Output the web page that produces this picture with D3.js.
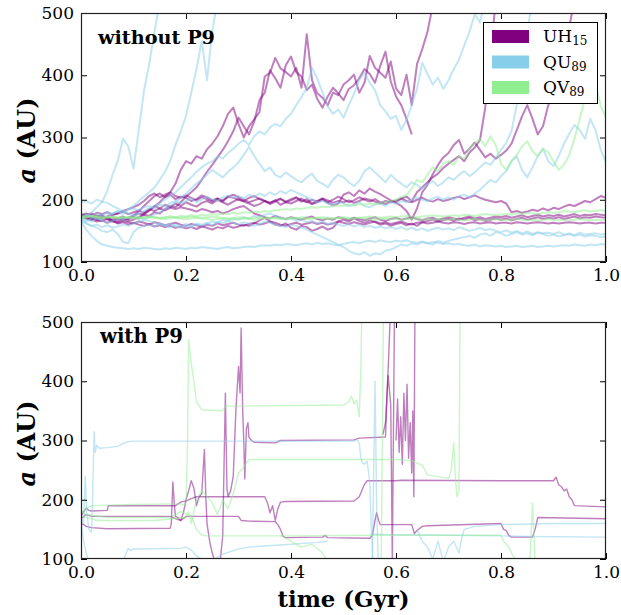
<!DOCTYPE html>
<html><head><meta charset="utf-8">
<script src="https://cdn.jsdelivr.net/npm/d3@7/dist/d3.min.js"></script>
<style>body{margin:0;background:#fff}svg{display:block}</style></head>
<body><svg id="c" width="621" height="615"></svg>
<script>
// ---------- DATA ----------
const timeGrid=[0,0.01,0.02,0.03,0.04,0.05,0.06,0.07,0.08,0.09,0.10,0.11,0.12,0.13,0.14,0.15,0.16,0.17,0.18,0.19,0.20,0.21,0.22,0.23,0.24,0.25,0.26,0.27,0.28,0.29,0.30,0.31,0.32,0.33,0.34,0.35,0.36,0.37,0.38,0.39,0.40,0.41,0.42,0.43,0.44,0.45,0.46,0.47,0.48,0.49,0.50,0.51,0.52,0.53,0.54,0.55,0.56,0.57,0.58,0.59,0.60,0.61,0.62,0.63,0.64,0.65,0.66,0.67,0.68,0.69,0.70,0.71,0.72,0.73,0.74,0.75,0.76,0.77,0.78,0.79,0.80,0.81,0.82,0.83,0.84,0.85,0.86,0.87,0.88,0.89,0.90,0.91,0.92,0.93,0.94,0.95,0.96,0.97,0.98,0.99,1.00];

// top panel (without P9): a (AU) sampled on timeGrid
const topUH1=[176,174,171,173,169,172,167,170,168,171, 174,178,176,183,189,196,205,212,226,248, 262,258,270,266,281,290,302,318,338,348, 322,300,318,329,341,398,404,428,411,405, 398,412,380,466,392,371,364,352,372,368, 385,392,401,372,388,431,412,404,396,422, 379,368,401,352,418,442,470,512];
const topUH2=[175,172,170,168,172,169,166,170,173,169, 172,170,176,174,180,178,185,190,188,196, 205,212,220,232,245,256,268,280,294,310, 332,318,305,326,360,372,408,395,380,416, 430,405,398,376,385,362,348,366,380,371, 360,378,384,395,410,402,388,415,438,390, 366,352,330,305];
const topUH3=[174,176,178,173,175,170,172,168,171,169, 175,182,190,198,206,210,204,208,201,205, 203,198,201,207,204,199,202,197,205,208, 204,200,196,199,202,198,193,197,201,196, 199,203,197,201,194,198,202,196,200,205, 201,196,199,204,200,197,201,196,193,198, 195,190,182,168,186,212,224,241,256,268, 275,288,296,274,282,292,280,268,274,266, 272,279,290,312,334,352,330,305,318,352, 368,396,432,478,520];
const topUH4=[172,170,168,171,174,170,167,165,169,166, 168,172,178,183,190,186,192,188,194,190, 196,192,189,195,198,194,200,196,192,197, 201,197,194,190,193,198,195,199,192,196, 194,198,202,197,193,196,200,195,191,194, 208,212,206,215,210,218,213,209,204,199, 196,202,205,198,212,220,228,236,242,251, 258,264,270,262,276,284,296,348,432,520];
const topUH5=[175,172,170,168,166,169,165,163,166,164, 162,165,163,160,164,162,159,161,163,160, 158,161,159,157,160,158,162,159,161,163, 160,158,161,163,160,162,165,163,160,158, 161,163,160,162,164,161,163,160,162,165, 163,161,164,162,160,163,165,162,164,161, 163,165,162,160,163,164,162,163,165,163, 162,164,163,161,163,164,162,163,164,162, 163,163,162,164,163,162,163,164,163,162, 163,162,163,164,163,162,163,163,162,163,163];
const topUH6=[176,178,175,179,177,180,176,178,181,177, 180,183,179,185,182,186,183,187,185,188, 186,184,181,185,183,180,182,178,181,185, 188,190,184,178,175,172,170,174,171,169, 172,170,168,171,173,169,167,170,168,172, 170,168,171,169,167,170,172,168,166,169, 171,168,170,172,169,167,170,171,168,170, 172,170,168,171,173,170,172,169,171,173, 172,174,171,173,175,172,174,176,173,175, 174,176,173,175,177,174,176,175,177,176,175];
const topUH7=[175,170,168,165,167,163,166,162,164,160, 163,160,158,161,157,159,156,158,155,157, 154,156,153,157,155,152,156,154,158,155, 157,160,158,162,167,171,165,160,158,162, 155,152,158,156,150,153,157,152,155,165, 168,165,170,166,163,167,164,160,162,158, 161,163,159,162,158,164,166,168,165,167, 169,166,170,168,171,167,169,166,168,170, 168,170,167,169,171,168,170,172,169,171, 170,172,169,171,173,170,172,171,173,172,171];
const topUH8=[176,174,172,175,171,173,176,178,182,185, 188,192,198,206,210,204,208,212,206,203, 207,203,199,204,201,197,202,199,205,203, 200,198,203,206,201,198,195,199,202,197, 201,204,199,196,200,197,202,199,195,198, 196,199,195,198,202,200,197,194,198,196, 199,202,198,196,200,203,199,197,201,198, 200,203,205,201,204,207,203,200,198,196, 198,194,180,182,179,181,184,182,186,183, 187,185,189,192,190,194,198,196,201,206,203];

const topQU1=[170,174,180,188,196,214,240,262,298,286, 250,312,375,418,470,520];
const topQU2=[168,165,170,172,168,175,178,182,176,185, 190,198,205,212,220,232,245,262,288,310, 335,372,410,455,392,470,520];
const topQU3=[172,168,165,170,167,163,166,170,168,172, 175,178,182,186,190,194,200,206,212,220, 228,236,245,252,258,262,270,266,275,282, 290,296,288,302,310,305,316,322,318,330, 338,352,365,380,412,395,372,350,338,345, 332,352,370,392,404,388,376,352,342,330, 335,312,328,352,378,420,402,385,396,378, 392,410,425,448,470,498,485,520];
const topQU4=[165,162,158,160,156,159,155,157,160,158, 162,165,168,172,176,180,185,190,196,203, 210,218,226,232,240,248,242,236,245,252, 260,272,285,270,258,246,252,240,236,244, 238,232,228,236,242,230,226,220,232,240, 236,228,222,230,246,252,244,236,228,240, 232,226,220,228,224,218,225,230,222,228, 236,232,240,246,238,244,252,260,256,268, 280,292,310,352,410,470,520];
const topQU5=[172,176,174,178,175,180,177,182,180,184, 186,183,188,190,186,192,189,195,198,194, 198,202,196,200,205,201,198,204,207,203, 206,202,208,205,210,206,212,208,214,210, 216,212,208,204,200,196,198,194,192,196, 194,190,192,196,190,188,192,194,190,196, 194,198,196,200,204,200,198,202,205,200, 204,200,206,208,204,210,216,224,232,228, 238,246,262,270,248,236,252,270,282,262, 254,270,290,306,320,312,298,330,312,280,260];
const topQU6=[165,152,142,134,128,126,124,123,122,121, 122,121,123,122,121,120,122,121,123,122, 121,123,122,124,123,122,121,123,124,122, 123,124,125,124,126,127,126,128,127,129, 128,127,129,130,128,131,129,130,128,127, 129,131,132,130,133,134,132,135,133,132, 134,133,135,132,131,133,130,132,131,129, 130,128,129,127,126,128,125,127,126,125, 126,124,125,126,124,125,126,124,125,126, 125,126,127,126,128,127,126,128,127,129,128];
const topQU7=[170,162,158,155,150,148,152,145,132,130, 148,155,158,160,157,162,159,156,160,158, 161,158,162,160,163,159,165,162,166,163, 160,164,162,158,161,165,163,160,158,156, 160,158,155,152,148,144,140,136,132,128, 124,118,114,112,116,110,114,112,118,120, 124,128,126,130,128,132,130,128,134,131, 134,136,138,140,142,139,144,146,142,148, 146,142,145,148,144,146,143,147,145,142, 144,141,143,145,142,144,141,143,142,140,141];
const topQU8=[196,198,194,200,197,195,190,186,182,178, 175,172,168,166,163,160,158,161,157,155, 158,156,160,158,162,165,163,168,166,170, 168,172,170,174,172,176,178,174,172,168, 170,166,168,164,166,162,165,161,163,160, 158,161,157,160,156,158,155,157,154,156, 153,156,152,155,151,154,150,153,155,152, 154,151,156,153,150,152,155,151,153,150, 148,151,147,150,146,149,145,148,146,147, 145,148,144,146,143,147,144,145,146,144,145];

const topQV1=[175,174,173,174,172,173,172,171,172,171, 172,171,172,173,172,171,172,173,172,171, 172,173,172,171,172,173,172,171,170,171, 172,171,170,171,172,171,170,171,170,169, 170,171,170,169,170,171,170,169,170,171, 170,169,170,171,170,169,168,169,170,169, 169,168,169,170,169,168,169,168,169,168, 168,169,168,167,168,169,168,167,168,169, 168,167,168,169,168,167,168,167,168,169, 168,167,168,167,168,169,168,167,168,167,168];
const topQV2=[172,171,173,172,170,172,171,170,172,171, 170,172,171,173,172,170,171,173,172,174, 173,175,174,176,175,177,176,178,177,179, 178,180,179,181,180,182,181,183,184,185, 184,186,185,187,188,187,189,188,190,191, 190,192,191,193,192,194,193,195,196,198, 200,204,208,218,232,228,240,252,246,258, 262,256,270,266,282,290,298,286,302,288, 258,248,262,272,286,294,278,270,282,276, 262,248,256,272,298,330,362,405,388,350,332];
const topQV3=[173,172,174,173,172,171,173,172,171,172, 171,170,171,172,171,170,169,170,171,170, 169,170,171,170,169,168,169,170,169,168, 169,170,169,168,169,170,171,170,169,170, 171,170,172,171,170,171,172,171,170,171, 172,171,170,171,172,173,172,171,172,173, 172,173,174,173,172,173,174,175,174,173, 174,175,174,176,175,174,176,177,176,175, 176,177,176,178,177,179,178,177,179,180, 179,180,182,181,180,182,183,181,182,183,182];

// bottom panel (with P9): [time (Gyr), a (AU)] pairs
const botUH1=[[0,172],[0.005,180],[0.01,186],[0.015,182],[0.02,181],[0.05,182],[0.052,190],[0.18,190],[0.185,193],[0.19,196],[0.2,198],[0.21,202],[0.22,205],[0.35,205],[0.355,195],[0.36,178],[0.365,190],[0.37,165],[0.375,185],[0.38,196],[0.39,197],[0.52,198],[0.53,205],[0.54,226],[0.545,232],[0.6,232],[0.61,233],[0.8,232],[0.9,232],[0.905,238],[0.91,225],[0.915,222],[0.92,215],[0.925,218],[0.93,205],[0.935,200],[0.94,190],[1.0,188]];
const botUH2=[[0,168],[0.01,175],[0.02,172],[0.17,172],[0.18,168],[0.19,165],[0.2,172],[0.3,172],[0.305,165],[0.32,164],[0.37,163],[0.375,158],[0.38,150],[0.385,138],[0.39,136],[0.46,137],[0.465,140],[0.47,136],[0.55,135],[0.555,140],[0.56,165],[0.563,178],[0.567,165],[0.57,158],[0.63,158],[0.635,143],[0.64,148],[0.65,155],[0.66,156],[0.8,160],[0.805,150],[0.81,148],[0.815,140],[0.82,137],[0.86,137],[0.865,150],[0.87,170],[1.0,168]];
const botUH3=[[0,160],[0.005,158],[0.01,155],[0.02,153],[0.05,151],[0.17,152],[0.172,160],[0.175,230],[0.178,190],[0.18,172],[0.185,170],[0.19,165],[0.195,178],[0.2,200],[0.205,215],[0.21,232],[0.215,220],[0.22,190],[0.225,205],[0.23,210],[0.235,285],[0.238,200],[0.24,160],[0.245,130],[0.25,110],[0.255,95],[0.265,95],[0.27,140],[0.275,380],[0.278,220],[0.28,205],[0.285,215],[0.29,240],[0.295,350],[0.3,425],[0.303,380],[0.305,490],[0.308,350],[0.31,300],[0.312,235],[0.315,320],[0.318,330],[0.32,305],[0.325,300],[0.33,297],[0.37,296],[0.38,300],[0.52,301],[0.53,304],[0.58,306],[0.583,380],[0.586,440],[0.589,510]];
const botUH4=[[0.575,310],[0.58,330],[0.585,410],[0.59,360],[0.593,95],[0.597,510]];
const botUH5=[[0.6,300],[0.603,370],[0.606,280],[0.609,340],[0.612,260],[0.615,380],[0.618,300],[0.621,395],[0.624,270],[0.627,330],[0.63,245],[0.632,350],[0.634,205],[0.636,510]];
const botQU1=[[0,170],[0.005,160],[0.008,240],[0.011,180],[0.015,150],[0.02,145],[0.022,200],[0.025,315],[0.027,280],[0.03,292],[0.035,287],[0.05,288],[0.07,290],[0.08,295],[0.09,298],[0.1,299],[0.52,299],[0.525,302],[0.53,296],[0.533,270],[0.536,262],[0.54,260],[0.545,265],[0.55,230],[0.553,150],[0.556,95]];
const botQU2=[[0,165],[0.005,130],[0.01,110],[0.015,95]];
const botQU3=[[0.08,95],[0.085,108],[0.09,118],[0.095,114],[0.1,117],[0.19,118],[0.2,120],[0.21,115],[0.22,105],[0.23,100],[0.25,98],[0.26,103],[0.27,108],[0.3,117],[0.32,120],[0.35,122],[0.4,125],[0.45,128],[0.47,130]];
const botQU4=[[0.555,95],[0.56,400],[0.563,200],[0.566,95]];
const botQU5=[[0.55,142],[0.6,141],[0.7,140],[0.8,139],[0.85,138],[1.0,137]];
const botQU6=[[0.64,150],[0.65,130],[0.66,120],[0.67,100],[0.68,130],[0.69,95],[0.7,120],[0.71,130],[0.72,110],[0.725,135],[0.73,150],[0.75,155],[0.8,158],[0.9,160],[1.0,160]];
const botQV1=[[0,178],[0.01,185],[0.02,190],[0.1,192],[0.19,193],[0.2,190],[0.203,300],[0.205,470],[0.21,430],[0.215,400],[0.22,365],[0.23,352],[0.27,350],[0.275,358],[0.5,360],[0.51,365],[0.515,375],[0.52,362],[0.525,368],[0.53,340],[0.533,420],[0.535,520]];
const botQV2=[[0,172],[0.02,168],[0.03,165],[0.14,165],[0.2,170],[0.205,180],[0.21,160],[0.22,200],[0.23,215],[0.24,205],[0.25,195],[0.26,175],[0.27,200],[0.28,185],[0.29,210],[0.3,245],[0.31,255],[0.32,268],[0.6,268],[0.63,266],[0.64,262],[0.65,258],[0.66,242],[0.7,236],[0.705,250],[0.71,296],[0.713,240],[0.716,205],[0.72,215],[0.722,520]];
const botQV3=[[0,182],[0.01,175],[0.05,170],[0.17,170],[0.19,180],[0.2,176],[0.21,172],[0.22,150],[0.23,140],[0.24,139],[0.4,139],[0.55,140],[0.6,140],[0.8,140],[0.805,130],[0.81,125],[0.815,120],[0.82,110],[0.83,95]];
const botQV4=[[0.38,140],[0.4,130],[0.42,120],[0.44,125],[0.46,110],[0.47,95]];
const botQV5=[[0.572,95],[0.576,520]];
const botQV6=[[0.855,95],[0.86,195],[0.865,95]];

const xTicks=[0.0,0.2,0.4,0.6,0.8,1.0];
const yTicks=[100,200,300,400,500];
const legendNames=["UH","QU","QV"];
const legendSubs=["15","89","89"];
const familyColors=["#800080","#87ceeb","#90ee90"];

// ---------- DRAW ----------
const svg=d3.select("#c");
const W=621;
const serif="'DejaVu Serif', 'Liberation Serif', serif";
const L=81,R=606;

function fitFont(sel,size,target){
  sel.style("font-size",size+"px");
  const w=sel.node().getComputedTextLength();
  sel.style("font-size",(size*target/w).toFixed(2)+"px");
}

function panel(id,top,bottom,seriesGroups,lw,label,labelX,labelY,labelW){
  const x=d3.scaleLinear().domain([0,1]).range([L,R]);
  const y=d3.scaleLinear().domain([100,500]).range([bottom,top]);
  svg.append("clipPath").attr("id",id).append("rect")
    .attr("x",L).attr("y",top).attr("width",R-L).attr("height",bottom-top);
  const g=svg.append("g").attr("clip-path",`url(#${id})`);
  seriesGroups.forEach(([color,list,isGrid])=>{
    list.forEach(s=>{
      const pts=isGrid? s.map((v,i)=>[timeGrid[i],v]) : s;
      g.append("path").datum(pts)
        .attr("d",d3.line().x(d=>x(d[0])).y(d=>y(d[1])))
        .attr("fill","none").attr("stroke",color).attr("stroke-width",lw)
        .attr("stroke-opacity",0.5).attr("stroke-linejoin","round");
    });
  });
  // axes
  const ax=(gen,tx,ty,lab)=>{
    const a=svg.append("g").attr("transform",`translate(${tx},${ty})`).call(gen);
    a.select(".domain").remove();
    a.selectAll(".tick line").attr("stroke","#000").attr("stroke-width",1);
    a.selectAll("text").attr("fill","#000").style("font-family",serif).style("font-size","17px");
    if(!lab) a.selectAll("text").remove();
    return a;
  };
  ax(d3.axisBottom(x).tickValues(xTicks).tickFormat(d3.format(".1f")).tickSize(-6).tickPadding(7),0,bottom,true);
  ax(d3.axisTop(x).tickValues(xTicks).tickSize(-6),0,top,false);
  ax(d3.axisLeft(y).tickValues(yTicks).tickFormat(d3.format("d")).tickSize(-6).tickPadding(7),L,0,true);
  ax(d3.axisRight(y).tickValues(yTicks).tickSize(-6),R,0,false);
  svg.append("rect").attr("x",L+0.5).attr("y",top+0.5).attr("width",R-L-1).attr("height",bottom-top-1)
    .attr("fill","none").attr("stroke","#222").attr("stroke-width",1.2);
  const t=svg.append("text").attr("x",labelX).attr("y",labelY).text(label)
    .style("font-family",serif).style("font-weight","bold").attr("fill","#000");
  fitFont(t,18,labelW);
  // y label
  const yl=svg.append("text").attr("transform",`translate(35,${(top+bottom)/2+3}) rotate(-90)`)
    .attr("text-anchor","middle").style("font-family",serif).style("font-weight","bold").attr("fill","#000");
  yl.append("tspan").style("font-style","italic").text("a");
  yl.append("tspan").text(" (AU)");
  fitFont(yl,22,86);
  return {x,y};
}

panel("clipTop",13,262,[
  [familyColors[0],[topUH1,topUH2,topUH3,topUH4,topUH5,topUH6,topUH7,topUH8],true],
  [familyColors[1],[topQU1,topQU2,topQU3,topQU4,topQU5,topQU6,topQU7,topQU8],true],
  [familyColors[2],[topQV1,topQV2,topQV3],true]
],2,"without P9",98,44,117);

panel("clipBot",322,559,[
  [familyColors[0],[botUH1,botUH2,botUH3,botUH4,botUH5],false],
  [familyColors[1],[botQU1,botQU2,botQU3,botQU4,botQU5,botQU6],false],
  [familyColors[2],[botQV1,botQV2,botQV3,botQV4,botQV5,botQV6],false]
],1.4,"with P9",100,343,83);

// x label
const xl=svg.append("text").attr("x",(L+R)/2).attr("y",607).attr("text-anchor","middle")
  .style("font-family",serif).style("font-weight","bold").attr("fill","#000").text("time (Gyr)");
fitFont(xl,22,132);

// legend
const lg=svg.append("g");
lg.append("rect").attr("x",483.5).attr("y",22.5).attr("width",114).attr("height",81)
  .attr("fill","#fff").attr("stroke","#000").attr("stroke-width",1);
legendNames.forEach((n,i)=>{
  const yy=30+i*25.5;
  lg.append("rect").attr("x",492).attr("y",yy).attr("width",37).attr("height",13).attr("fill",familyColors[i]);
  const t=lg.append("text").attr("x",543).attr("y",yy+12).style("font-family",serif).style("font-size","17px").attr("fill","#000");
  t.append("tspan").text(n);
  t.append("tspan").attr("dy",3).style("font-size","12px").text(legendSubs[i]);
});
</script></body></html>
